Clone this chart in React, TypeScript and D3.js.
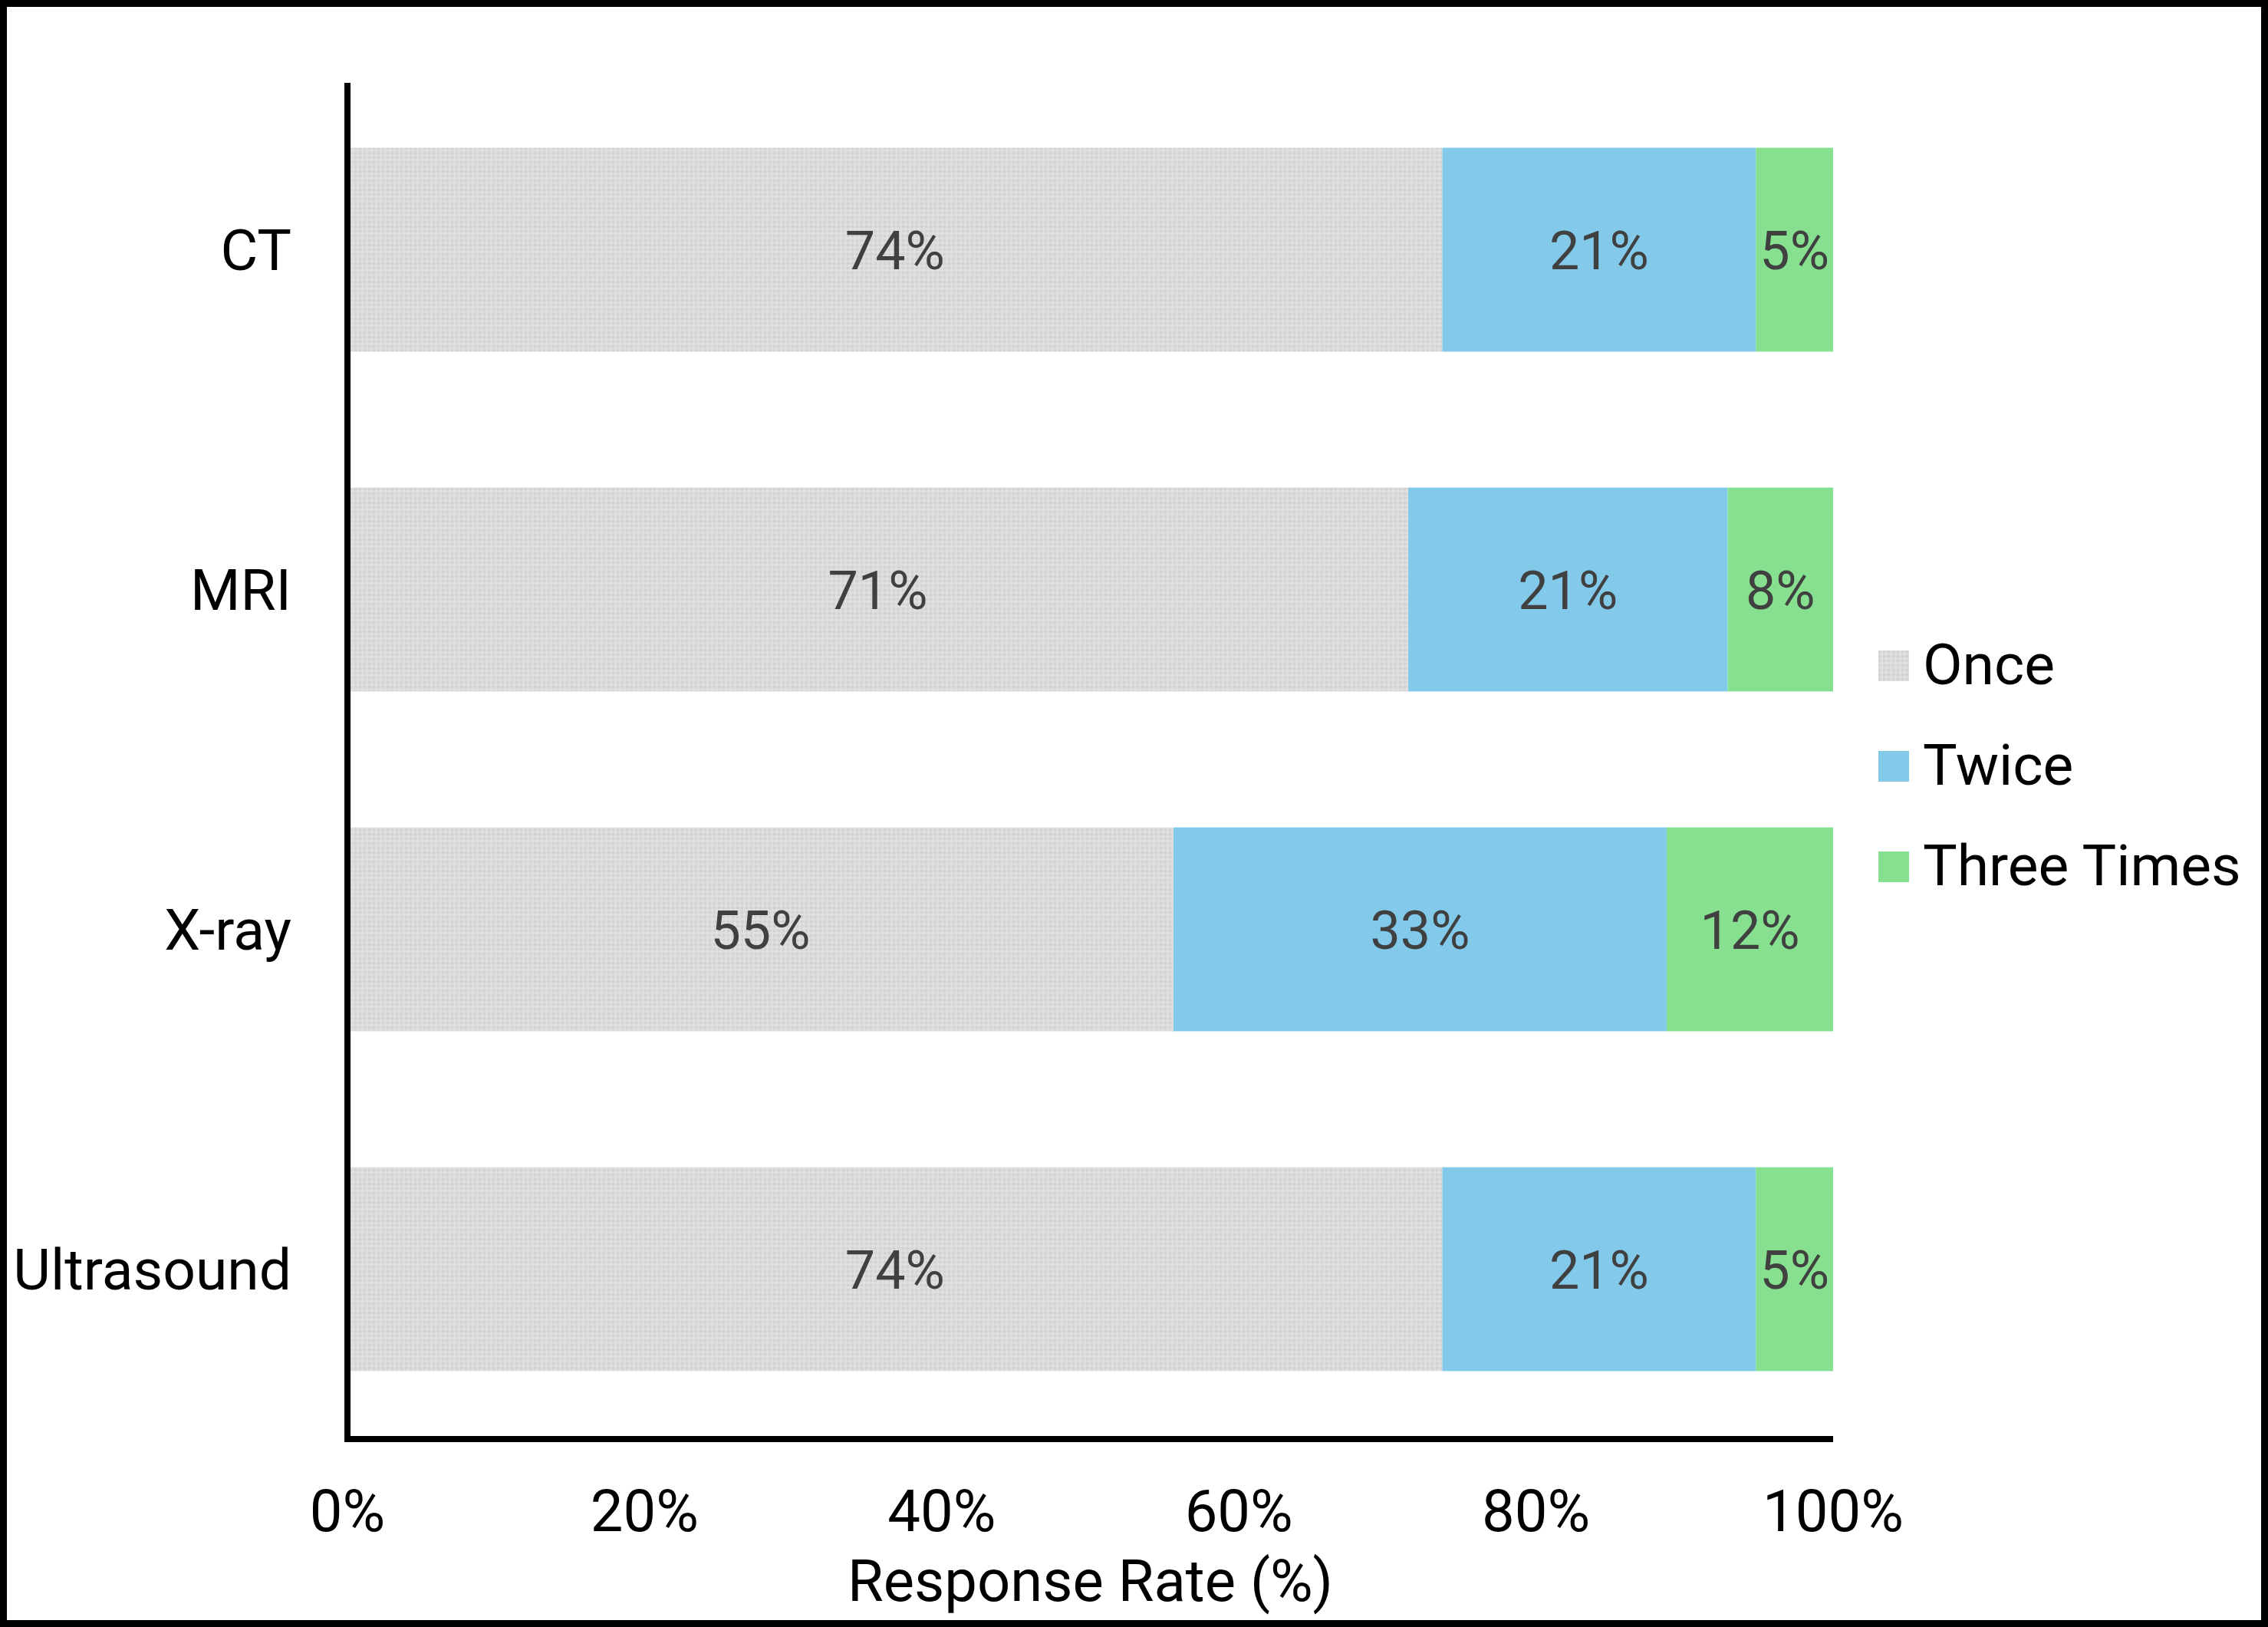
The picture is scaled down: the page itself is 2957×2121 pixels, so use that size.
import React from "react";
import * as d3 from "d3";

const categories = ["CT", "MRI", "X-ray", "Ultrasound"];
const seriesNames = ["Once", "Twice", "Three Times"];
const onceValues = [73.7, 71.4, 55.6, 73.7];
const twiceValues = [21.1, 21.5, 33.2, 21.1];
const threeTimesValues = [5.2, 7.1, 11.2, 5.2];
const onceLabels = ["74%", "71%", "55%", "74%"];
const twiceLabels = ["21%", "21%", "33%", "21%"];
const threeTimesLabels = ["5%", "8%", "12%", "5%"];
const xTicks = [0, 20, 40, 60, 80, 100];
const xTickLabels = ["0%", "20%", "40%", "60%", "80%", "100%"];
const xAxisTitle = "Response Rate (%)";

const W = 2957;
const H = 2121;
const FONT = "Roboto, 'Liberation Sans', Arial, sans-serif";
const colors = ["url(#oncePattern)", "#82c9ea", "#86e08f"];
const swatchColors = ["url(#oncePattern)", "#82c9ea", "#86e08f"];

export default function App() {
  const x = d3.scaleLinear().domain([0, 100]).range([453, 2390]);
  const y = d3.scaleBand<string>().domain(categories).range([104, 1876]).paddingInner(0.4).paddingOuter(0.2);

  const rows = categories.map((c, i) => ({
    cat: c,
    Once: onceValues[i],
    Twice: twiceValues[i],
    "Three Times": threeTimesValues[i],
  }));
  const stack = d3.stack<any>().keys(seriesNames);
  const stacked = stack(rows);
  const labelSets = [onceLabels, twiceLabels, threeTimesLabels];

  const bw = y.bandwidth();

  return (
    <svg
      width={W}
      height={H}
      viewBox={`0 0 ${W} ${H}`}
      style={{ position: "absolute", left: 0, top: 0, background: "#fff" }}
      fontFamily={FONT}
      fontWeight={400}
    >
      <defs>
        <pattern id="oncePattern" width="6" height="6" patternUnits="userSpaceOnUse">
          <rect width="6" height="6" fill="#dcdcdc" />
          <rect x="0" y="0" width="3" height="3" fill="#d2d2d2" />
          <rect x="3" y="3" width="3" height="3" fill="#e0e0e0" />
        </pattern>
      </defs>
      <rect x={0} y={0} width={W} height={H} fill="#fff" />

      {stacked.map((s, si) => (
        <g key={s.key}>
          {s.map((d, i) => {
            const x0 = si === 0 ? x(d[0]) + 4 : x(d[0]);
            return (
              <rect
                key={i}
                x={x0}
                y={y(categories[i])}
                width={x(d[1]) - x0}
                height={bw}
                fill={colors[si]}
              />
            );
          })}
        </g>
      ))}

      {stacked.map((s, si) => (
        <g key={"l" + s.key}>
          {s.map((d, i) => (
            <text
              key={i}
              x={(x(d[0]) + x(d[1])) / 2}
              y={(y(categories[i]) as number) + bw / 2 + 25}
              textAnchor="middle"
              fontSize={70}
              fill="#404040"
            >
              {labelSets[si][i]}
            </text>
          ))}
        </g>
      ))}

      {/* category labels */}
      {categories.map((c) => (
        <text
          key={c}
          x={380}
          y={(y(c) as number) + bw / 2 + 26}
          textAnchor="end"
          fontSize={75}
          fill="#000"
        >
          {c}
        </text>
      ))}

      {/* axes */}
      <line x1={453} x2={453} y1={108} y2={1880} stroke="#000" strokeWidth={8} />
      <line x1={449} x2={x(100)} y1={1876} y2={1876} stroke="#000" strokeWidth={8} />

      {xTicks.map((t, i) => (
        <text key={t} x={x(t)} y={1996} textAnchor="middle" fontSize={76} fill="#000">
          {xTickLabels[i]}
        </text>
      ))}
      <text x={(x(0) + x(100)) / 2} y={2087} textAnchor="middle" fontSize={76} fill="#000">
        {xAxisTitle}
      </text>

      {/* legend */}
      {seriesNames.map((n, i) => (
        <g key={n} transform={`translate(2449, ${848 + i * 131})`}>
          <rect x={0} y={0} width={40} height={40} fill={swatchColors[i]} />
          <text x={58} y={44} fontSize={75} fill="#000">
            {n}
          </text>
        </g>
      ))}

      {/* outer frame */}
      <rect x={4.5} y={4.5} width={W - 9} height={H - 9} fill="none" stroke="#000" strokeWidth={9} />
    </svg>
  );
}
